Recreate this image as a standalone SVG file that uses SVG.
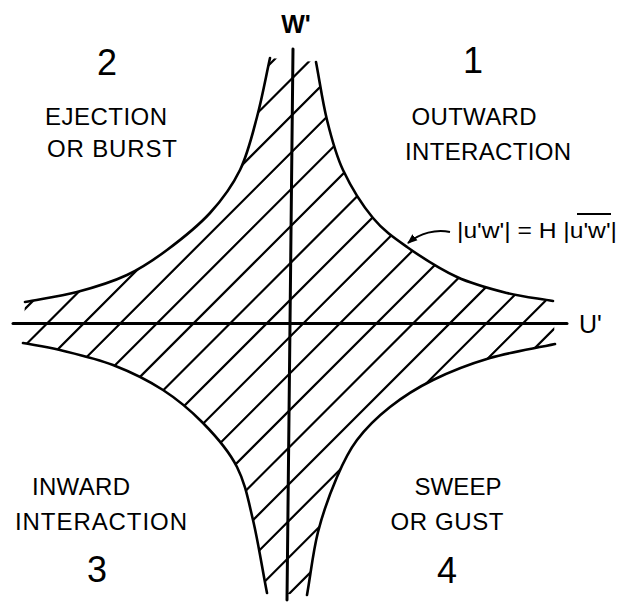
<svg xmlns="http://www.w3.org/2000/svg" width="621" height="604" viewBox="0 0 621 604">
<style>
.lbl{font-family:"Liberation Sans",Arial,sans-serif;font-size:24px;fill:#000;text-anchor:middle}
.num{font-family:"Liberation Sans",Arial,sans-serif;font-size:36px;fill:#000;text-anchor:middle}
.ax{font-family:"Liberation Sans",Arial,sans-serif;font-size:25px;fill:#000}
.curve{fill:none;stroke:#000;stroke-width:2.6;stroke-linecap:round;stroke-linejoin:round}
.hatch{fill:none;stroke:#000;stroke-width:2.2}
.axis{fill:none;stroke:#000;stroke-width:3;stroke-linecap:round}
</style>
<defs>
<clipPath id="region">
<path d="M316,62 C319.7,81.3 322.5,102 327,120 C331.5,138 335.3,153.7 343,170 C350.7,186.3 362.3,205.2 373,218 C383.7,230.8 393,237.2 407,247 C421,256.8 440.3,269.3 457,277 C473.7,284.7 491,289 507,293 C523,297 537.7,298.3 553,301 L555,344 C533.3,348.7 510.3,352 490,358 C469.7,364 449.7,371.8 433,380 C416.3,388.2 402.7,397 390,407 C377.3,417 365.8,428.3 357,440 C348.2,451.7 343.5,461.7 337,477 C330.5,492.3 323,512.3 318,532 C313,551.7 310.7,574 307,595 L267,593 C262.3,569 258,541 253,520 C248,499 245.3,483.5 237,467 C228.7,450.5 215.3,435.5 203,423 C190.7,410.5 178,399.7 163,390 C148,380.3 130.2,371.7 113,365 C95.8,358.3 75,353.7 60,350 C45,346.3 35.3,345.3 23,343 L25,302 C42.3,298.7 60,296.5 77,292 C94,287.5 112,282 127,275 C142,268 153.2,260.3 167,250 C180.8,239.7 197.8,226.3 210,213 C222.2,199.7 232.2,186 240,170 C247.8,154 252,135.7 257,117 C262,98.3 265.7,77.7 270,58 Z"/>
</clipPath>
<marker id="ah" viewBox="0 0 10 10" refX="9" refY="5" markerWidth="10" markerHeight="10" markerUnits="userSpaceOnUse" orient="auto">
<path d="M0,1 L10,5 L0,9 Z" fill="#000"/>
</marker>
</defs>

<g id="hatching" clip-path="url(#region)">
<path class="hatch" d="M-316.2,613.5 L263.8,33.5 M-279.6,613.5 L300.4,33.5 M-243,613.5 L337,33.5 M-206.4,613.5 L373.6,33.5 M-169.8,613.5 L410.2,33.5 M-133.2,613.5 L446.8,33.5 M-96.6,613.5 L483.4,33.5 M-60,613.5 L520,33.5 M-23.4,613.5 L556.6,33.5 M13.2,613.5 L593.2,33.5 M49.8,613.5 L629.8,33.5 M86.4,613.5 L666.4,33.5 M123,613.5 L703,33.5 M159.6,613.5 L739.6,33.5 M196.2,613.5 L776.2,33.5 M232.8,613.5 L812.8,33.5 M269.4,613.5 L849.4,33.5 M306,613.5 L886,33.5"/>
</g>

<g id="curves">
<path id="q1-curve" class="curve" d="M316,62 C319.7,81.3 322.5,102 327,120 C331.5,138 335.3,153.7 343,170 C350.7,186.3 362.3,205.2 373,218 C383.7,230.8 393,237.2 407,247 C421,256.8 440.3,269.3 457,277 C473.7,284.7 491,289 507,293 C523,297 537.7,298.3 553,301"/>
<path id="q2-curve" class="curve" d="M270,58 C265.7,77.7 262,98.3 257,117 C252,135.7 247.8,154 240,170 C232.2,186 222.2,199.7 210,213 C197.8,226.3 180.8,239.7 167,250 C153.2,260.3 142,268 127,275 C112,282 94,287.5 77,292 C60,296.5 42.3,298.7 25,302"/>
<path id="q3-curve" class="curve" d="M23,343 C35.3,345.3 45,346.3 60,350 C75,353.7 95.8,358.3 113,365 C130.2,371.7 148,380.3 163,390 C178,399.7 190.7,410.5 203,423 C215.3,435.5 228.7,450.5 237,467 C245.3,483.5 248,499 253,520 C258,541 262.3,569 267,593"/>
<path id="q4-curve" class="curve" d="M555,344 C533.3,348.7 510.3,352 490,358 C469.7,364 449.7,371.8 433,380 C416.3,388.2 402.7,397 390,407 C377.3,417 365.8,428.3 357,440 C348.2,451.7 343.5,461.7 337,477 C330.5,492.3 323,512.3 318,532 C313,551.7 310.7,574 307,595"/>
</g>

<g id="axes">
<line class="axis" x1="13" y1="323.5" x2="567" y2="323.5"/>
<line class="axis" x1="293" y1="49" x2="287" y2="600"/>
<text class="ax" x="579" y="333">U'</text>
<text class="ax" x="296" y="33" text-anchor="middle" font-weight="bold">W'</text>
</g>

<g id="quadrant-1">
<text class="num" x="473" y="73">1</text>
<text class="lbl" x="474" y="125" textLength="125" lengthAdjust="spacing">OUTWARD</text>
<text class="lbl" x="488" y="160" textLength="166" lengthAdjust="spacing">INTERACTION</text>
</g>
<g id="quadrant-2">
<text class="num" x="107" y="75">2</text>
<text class="lbl" x="106" y="125" textLength="122" lengthAdjust="spacing">EJECTION</text>
<text class="lbl" x="112" y="157" textLength="130" lengthAdjust="spacing">OR BURST</text>
</g>
<g id="quadrant-3">
<text class="lbl" x="81" y="495" textLength="98" lengthAdjust="spacing">INWARD</text>
<text class="lbl" x="101" y="530" textLength="172" lengthAdjust="spacing">INTERACTION</text>
<text class="num" x="97" y="582">3</text>
</g>
<g id="quadrant-4">
<text class="lbl" x="458" y="495" textLength="87" lengthAdjust="spacing">SWEEP</text>
<text class="lbl" x="447" y="530" textLength="113" lengthAdjust="spacing">OR GUST</text>
<text class="num" x="447" y="583">4</text>
</g>

<g id="equation-label">
<text x="457" y="238" font-family="'Liberation Sans',Arial,sans-serif" font-size="22" textLength="160" lengthAdjust="spacingAndGlyphs">|u'w'| = H |u'w'|</text>
<line x1="577" y1="214" x2="611" y2="214" stroke="#000" stroke-width="2"/>
</g>
<g id="connectors">
<path d="M450,232 C436,229 420,233 408,243" fill="none" stroke="#000" stroke-width="2" marker-end="url(#ah)"/>
</g>
</svg>
